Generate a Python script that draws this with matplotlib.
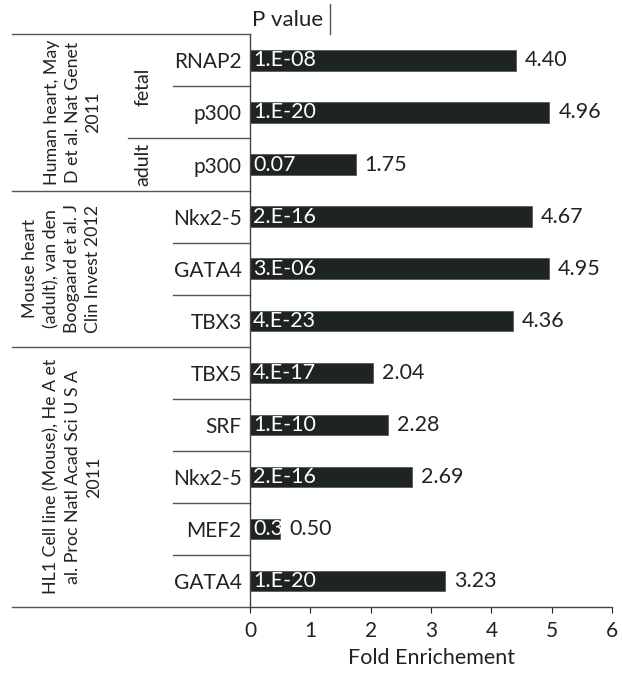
import matplotlib.pyplot as plt

plt.rcParams['font.family'] = ['Lato', 'DejaVu Sans']

# Rows from top to bottom
factors = ["RNAP2", "p300", "p300", "Nkx2-5", "GATA4", "TBX3",
           "TBX5", "SRF", "Nkx2-5", "MEF2", "GATA4"]
fold = [4.40, 4.96, 1.75, 4.67, 4.95, 4.36, 2.04, 2.28, 2.69, 0.50, 3.23]
pvals = ["1.E-08", "1.E-20", "0.07", "2.E-16", "3.E-06", "4.E-23",
         "4.E-17", "1.E-10", "2.E-16", "0.3", "1.E-20"]

studies = ["Human heart, May\nD et al. Nat Genet\n2011",
           "Mouse heart\n(adult), van den\nBoogaard et al. J\nClin Invest 2012",
           "HL1 Cell line (Mouse), He A et\nal. Proc Natl Acad Sci U S A\n2011"]
study_rows = [(0, 2), (3, 5), (6, 10)]
stages = ["fetal", "adult"]
stage_rows = [(0, 1), (2, 2)]

fig = plt.figure(figsize=(6.22, 6.74), dpi=100)
ax = fig.add_axes([0.402, 0.0994, 0.582, 0.8496])

y = list(range(len(factors)))
bars = ax.barh(y, fold, height=0.39, color="#1e2324", edgecolor="#555a5b", linewidth=0.6)

for yi, v, p, b in zip(y, fold, pvals, bars):
    t = ax.text(0.05, yi, p, color="white", fontsize=15.5, va="center", ha="left")
    t.set_clip_path(b)
    ax.text(v + 0.15, yi, f"{v:.2f}", color="#222222", fontsize=15.5, va="center", ha="left")

ax.set_ylim(len(factors) - 0.5, -0.5)
ax.set_xlim(0, 6)
ax.set_yticks(y)
ax.set_yticklabels(factors, fontsize=15, color="#222222")
ax.tick_params(axis="y", length=0, pad=6)
ax.set_xticks(range(7))
ax.tick_params(axis="x", labelsize=15, length=4, direction="out", pad=6, colors="#222222")
ax.set_xlabel("Fold Enrichement", fontsize=15.5, color="#222222", labelpad=5)
for s in ["top", "right"]:
    ax.spines[s].set_visible(False)
for s in ["left", "bottom"]:
    ax.spines[s].set_color("#444444")
    ax.spines[s].set_linewidth(1.0)

line_kw = dict(color="#555555", lw=1.0, clip_on=False)

# study boundaries
for start, end in study_rows:
    ax.plot([-3.95, 0], [start - 0.5, start - 0.5], **line_kw)
ax.plot([-3.95, 0], [len(factors) - 0.5] * 2, **line_kw)

# row separators inside each study
for start, end in study_rows:
    for r in range(start + 1, end + 1):
        x0 = -2.02 if r == 2 else -1.28
        ax.plot([x0, 0], [r - 0.5, r - 0.5], **line_kw)

# study names
study_x = [-2.94, -3.12, -2.94]
for label, (start, end), sx in zip(studies, study_rows, study_x):
    ax.text(sx, (start + end) / 2, label, rotation=90, ha="center", va="center",
            multialignment="center", fontsize=12.8, linespacing=1.38,
            color="#222222", clip_on=False)

# developmental stage
for label, (start, end) in zip(stages, stage_rows):
    ax.text(-1.78, (start + end) / 2, label, rotation=90, ha="center", va="center",
            fontsize=14, color="#222222", clip_on=False)

# P value header
ax.text(0.03, -0.77, "P value", fontsize=16, ha="left", va="center", color="#222222")
ax.plot([1.33, 1.33], [-0.5, -1.08], **line_kw)

fig.savefig("out.png", dpi=100)
